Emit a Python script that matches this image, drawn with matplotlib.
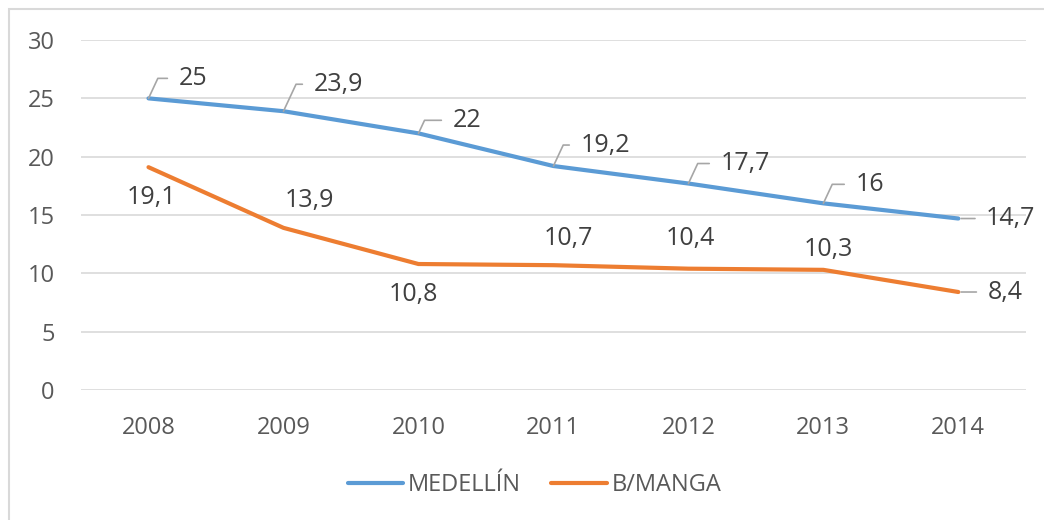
import matplotlib.pyplot as plt
from matplotlib.patches import Rectangle

plt.rcParams['font.family'] = ['Open Sans', 'DejaVu Sans']

years = ['2008', '2009', '2010', '2011', '2012', '2013', '2014']
medellin = [25, 23.9, 22, 19.2, 17.7, 16, 14.7]
bmanga = [19.1, 13.9, 10.8, 10.7, 10.4, 10.3, 8.4]

# label offsets in points
med_pos = [(21.6, 14.4), (21.6, 19.4), (24.5, 9.4), (19.4, 15.1),
           (23, 14.4), (23, 13.7), (20, 0)]
bm_pos = [(2, -22), (19, 19.5), (-4, -21.6), (11, 19), (1.5, 21.6), (3.6, 15), (21, 0)]

blue = '#5B9BD5'
orange = '#ED7D31'
lead = '#A6A6A6'

fig = plt.figure(figsize=(10.44, 5.2), dpi=100)
ax = fig.add_axes([0.0776, 0.25, 0.905, 0.673])

x = range(len(years))
ax.plot(x, medellin, color=blue, lw=3, solid_capstyle='round', label='MEDELLÍN')
ax.plot(x, bmanga, color=orange, lw=3, solid_capstyle='round', label='B/MANGA')

ax.set_xlim(-0.5, len(years) - 0.5)
ax.set_ylim(0, 30)
ax.set_yticks(range(0, 31, 5))
ax.set_xticks(list(x))
ax.set_xticklabels(years)
ax.grid(axis='y', color='#D9D9D9', lw=1.2)
ax.set_axisbelow(True)
for s in ax.spines.values():
    s.set_visible(False)
ax.tick_params(length=0, labelsize=17, colors='#595959', pad=19)

def fmt(v):
    return ('%g' % v).replace('.', ',')

last = len(years) - 1

# medellin: labels above right with bent gray leaders
for i, v in enumerate(medellin):
    dx, dy = med_pos[i]
    if i == last:
        arrow = dict(arrowstyle='-', color=lead, lw=1.2, shrinkA=6, shrinkB=2)
    else:
        arrow = dict(arrowstyle='-', color=lead, lw=1.2, shrinkA=6, shrinkB=0,
                     connectionstyle='angle,angleA=180,angleB=65,rad=0')
    ax.annotate(fmt(v), (i, v), xytext=(dx, dy), textcoords='offset points',
                ha='left', va='center', fontsize=18, color='#404040',
                arrowprops=arrow)

# b/manga: plain labels, last one with a short leader
for i, v in enumerate(bmanga):
    dx, dy = bm_pos[i]
    if i == last:
        ax.annotate(fmt(v), (i, v), xytext=(dx, dy), textcoords='offset points',
                    ha='left', va='center', fontsize=18, color='#404040',
                    arrowprops=dict(arrowstyle='-', color=lead, lw=1.2,
                                    shrinkA=6, shrinkB=2))
    else:
        ax.annotate(fmt(v), (i, v), xytext=(dx, dy), textcoords='offset points',
                    ha='center', va='center', fontsize=18, color='#404040')

fig.legend(loc='center', bbox_to_anchor=(0.512, 0.067), ncol=2, frameon=False,
           fontsize=17, labelcolor='#595959', handlelength=2.35, columnspacing=1.3,
           handletextpad=0.2)

# chart frame (only the left and top edges are inside the picture)
fig.patches.append(Rectangle((0.0086, -0.1), 1.2, 1.0827, transform=fig.transFigure,
                             fill=False, edgecolor='#D9D9D9', lw=1.5))

fig.savefig('out.png', dpi=100)
